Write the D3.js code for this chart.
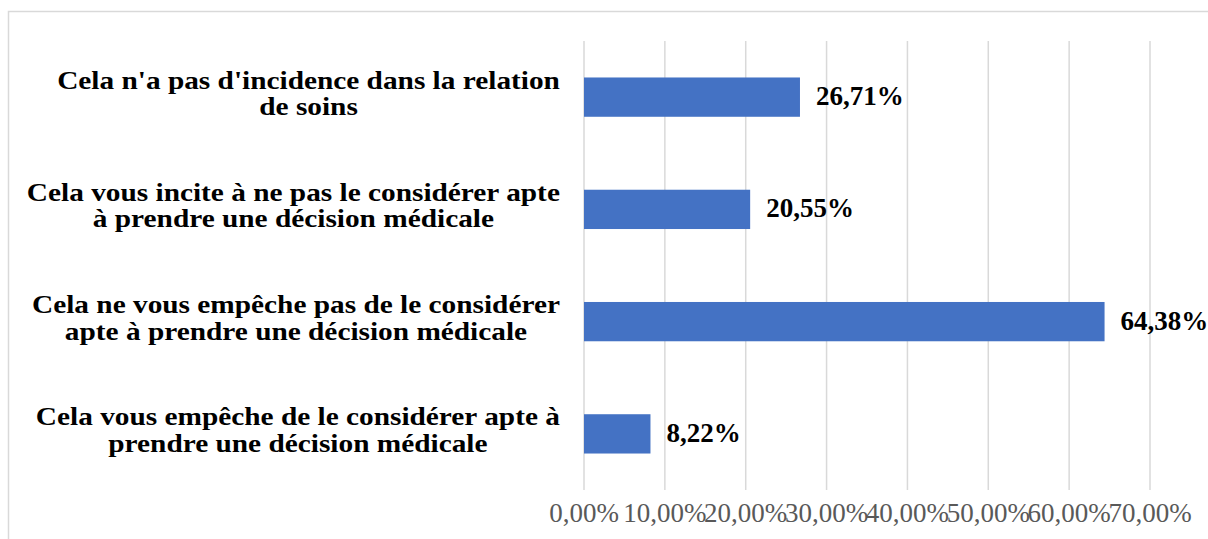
<!DOCTYPE html>
<meta charset="utf-8">
<style>
body { margin: 0; background: #fff; }
.grid line { stroke: #d9d9d9; stroke-width: 1.5px; }
.cat text { font-family: "Liberation Serif", "Times New Roman", serif; font-weight: bold; font-size: 25.5px; fill: #000; }
.val text { font-family: "Liberation Serif", "Times New Roman", serif; font-weight: bold; font-size: 27px; fill: #000; }
.ticks text { font-family: "Liberation Serif", "Times New Roman", serif; font-size: 27px; fill: #595959; }
</style>
<body>
<svg width="1208" height="539"></svg>
<script src="https://cdn.jsdelivr.net/npm/d3@7"></script>
<script>

// data, top to bottom
var categories = [
  ["Cela n'a pas d'incidence dans la relation", "de soins"],
  ["Cela vous incite à ne pas le considérer apte", "à prendre une décision médicale"],
  ["Cela ne vous empêche pas de le considérer", "apte à prendre une décision médicale"],
  ["Cela vous empêche de le considérer apte à", "prendre une décision médicale"]
];
var values = [26.71, 20.55, 64.38, 8.22];
var tickValues = [0, 10, 20, 30, 40, 50, 60, 70];

var svg = d3.select("svg");

var fr = function(v) { return v.toFixed(2).replace(".", ",") + "%"; };

// outer frame (chart is cropped on the right and bottom)
svg.append("rect")
    .attr("x", 8.5).attr("y", 11.5)
    .attr("width", 1300).attr("height", 600)
    .attr("fill", "none")
    .attr("stroke", "#d9d9d9")
    .attr("stroke-width", 1.5);

var x = d3.scaleLinear().domain([0, 70]).range([584, 1150]);
var y = d3.scaleBand()
    .domain(d3.range(values.length))
    .range([41, 490])
    .paddingInner(0.65)
    .paddingOuter(0.325);

svg.append("g").attr("class", "grid")
  .selectAll("line")
  .data(tickValues)
  .enter().append("line")
    .attr("x1", function(d) { return x(d); })
    .attr("x2", function(d) { return x(d); })
    .attr("y1", 41)
    .attr("y2", 490);

svg.append("g").attr("class", "ticks")
  .selectAll("text")
  .data(tickValues)
  .enter().append("text")
    .attr("x", function(d) { return x(d); })
    .attr("y", 522)
    .attr("text-anchor", "middle")
    .text(function(d) { return fr(d); });

svg.append("g")
  .selectAll("rect")
  .data(values)
  .enter().append("rect")
    .attr("x", x(0))
    .attr("y", function(d, i) { return y(i); })
    .attr("width", function(d) { return x(d) - x(0); })
    .attr("height", y.bandwidth())
    .attr("fill", "#4472c4");

svg.append("g").attr("class", "val")
  .selectAll("text")
  .data(values)
  .enter().append("text")
    .attr("x", function(d) { return x(d) + 16; })
    .attr("y", function(d, i) { return y(i) + y.bandwidth() / 2 + 8; })
    .text(function(d) { return fr(d); });

// labels in the picture are a bit wider than the font, so stretch them;
// lines are centred on each other, the block ends at x=560
var sx = 1.15;
var cat = svg.append("g").attr("class", "cat")
  .selectAll("text")
  .data(categories)
  .enter().append("text")
    .attr("text-anchor", "middle");

cat.selectAll("tspan")
  .data(function(d) { return d; })
  .enter().append("tspan")
    .attr("x", 0)
    .attr("y", function(d, j) { return -8.5 + j * 26.5; })
    .text(function(d) { return d; });

cat.attr("transform", function(d, i) {
  var w = 0;
  d3.select(this).selectAll("tspan").each(function() {
    w = Math.max(w, this.getComputedTextLength());
  });
  var cx = 560 - w * sx / 2;
  return "translate(" + cx + "," + (y(i) + y.bandwidth() / 2) + ") scale(" + sx + ",1)";
});

</script>
</body>
